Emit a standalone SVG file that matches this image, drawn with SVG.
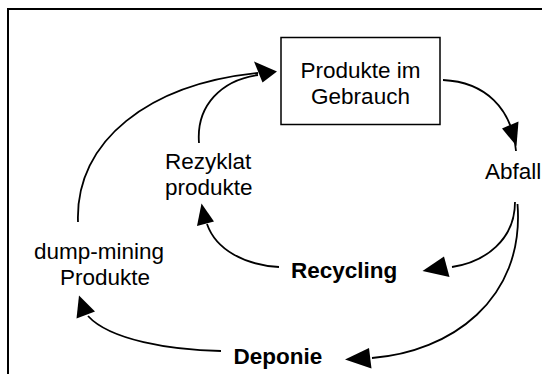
<svg xmlns="http://www.w3.org/2000/svg" width="542" height="374" viewBox="0 0 542 374">
  <style>
    .lbl { font-family: "Liberation Sans", Arial, sans-serif; font-size: 22.5px; fill: #000; }
    .bold { font-weight: bold; }
    .flow { fill: none; stroke: #000; stroke-width: 1.8; }
    .head { fill: #000; stroke: none; }
  </style>
  <rect width="542" height="374" fill="#fff"/>
  <!-- frame (open at right and bottom) -->
  <path d="M8,374 L8,9 L542,9" fill="none" stroke="#000" stroke-width="2"/>

  <g id="node-produkte">
    <rect x="281" y="37.5" width="159" height="87" fill="#fff" stroke="#000" stroke-width="1.5"/>
    <text class="lbl" x="360.5" y="78" text-anchor="middle">Produkte im</text>
    <text class="lbl" x="360.5" y="103.5" text-anchor="middle">Gebrauch</text>
  </g>
  <g id="node-abfall">
    <text class="lbl" x="485" y="179">Abfall</text>
  </g>
  <g id="node-rezyklat">
    <text class="lbl" x="165" y="169">Rezyklat</text>
    <text class="lbl" x="165" y="195">produkte</text>
  </g>
  <g id="node-dump">
    <text class="lbl" x="34" y="259">dump-mining</text>
    <text class="lbl" x="60" y="284.5">Produkte</text>
  </g>
  <g id="node-recycling">
    <text class="lbl bold" x="291" y="277.5">Recycling</text>
  </g>
  <g id="node-deponie">
    <text class="lbl bold" x="233.5" y="364">Deponie</text>
  </g>

  <g id="connectors">
    <!-- Produkte im Gebrauch -> Abfall -->
    <path class="flow" d="M443,80 C485,82 512,108 516,151"/>
    <polygon class="head" points="502,128.5 518.5,121.5 516.5,146"/>
    <!-- Abfall -> Recycling -->
    <path class="flow" d="M515,202 C515,240 485,262 452,267"/>
    <polygon class="head" points="444,256.5 449.5,277 422.5,271"/>
    <!-- Abfall -> Deponie -->
    <path class="flow" d="M517.5,204 C525,300 450,352 372,358"/>
    <polygon class="head" points="369,348 371.5,368.5 345,359.5"/>
    <!-- Recycling -> Rezyklat produkte -->
    <path class="flow" d="M279,267 C245,265 216,250 207,224"/>
    <polygon class="head" points="197,226 214,221.5 201.5,203.5"/>
    <!-- Rezyklat produkte -> Produkte im Gebrauch -->
    <path class="flow" d="M199,143 C196,105 222,80 258,75"/>
    <!-- dump-mining Produkte -> Produkte im Gebrauch -->
    <path class="flow" d="M78,222 C75,140 150,84 258,73"/>
    <polygon class="head" points="254,61.5 262.5,82.5 277,71.5"/>
    <!-- Deponie -> dump-mining Produkte -->
    <path class="flow" d="M221,351 C170,350 110,340 88,316"/>
    <polygon class="head" points="76.5,318.5 95,311.5 79,295.5"/>
  </g>
</svg>
